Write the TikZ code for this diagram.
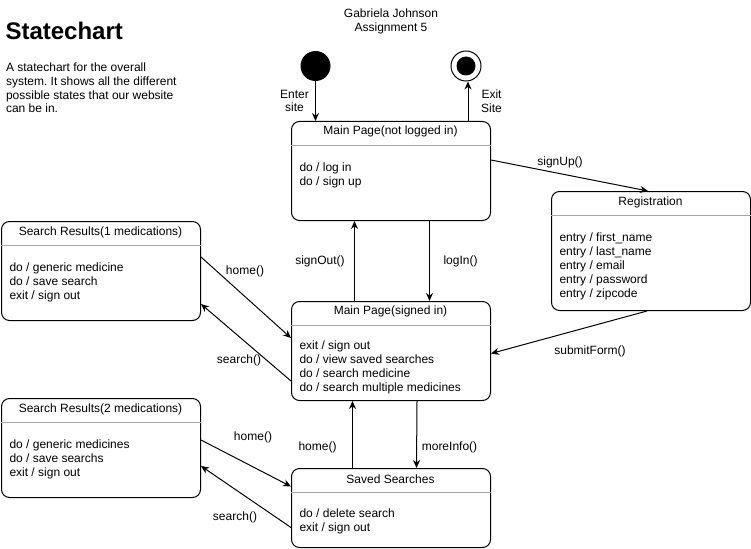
\documentclass[tikz,border=0pt]{standalone}
\usepackage{fontspec}
\setmainfont{Liberation Sans}
\usetikzlibrary{arrows.meta}
\usetikzlibrary{positioning}
\frenchspacing

\begin{document}
\begin{tikzpicture}[x=1pt, y=-1pt, line width=1pt,
        state/.style={shape=rectangle, draw=black, rounded corners=8pt, minimum width=199pt, anchor=north west, inner sep=0pt},
        head/.style={inner sep=0pt, font=\fontsize{12}{14}\selectfont},
        body/.style={anchor=north west, align=left, inner sep=0pt, font=\fontsize{12}{14}\selectfont},
        lbl/.style={inner sep=0pt, align=center, font=\fontsize{12}{13.6}\selectfont},
        sep/.style={draw=black!35, line width=0.8pt},
        trans/.style={-{Stealth[length=8pt,width=7pt]}}]
        \useasboundingbox (0,0) rectangle (751,548);

        % title and notes
        \node (title) at (5,31) [anchor=west, inner sep=0pt, font=\fontsize{24}{28}\bfseries] {Statechart};
        \node (notes) at (5.5,88) [anchor=west, align=left, inner sep=0pt, font=\fontsize{12}{13.7}\selectfont] {A statechart for the overall\\system. It shows all the different\\possible states that our website\\can be in.};
        \node (author) at (391,21.5) [lbl] {Gabriela Johnson\\Assignment 5};

        % pseudo states
        \node (start) at (315.5,66) [shape=circle, fill=black, minimum size=30pt, inner sep=0pt] {};
        \node (stop) at (466,66) [shape=circle, draw=black, minimum size=30pt, inner sep=0pt] {};
        \node (stopdot) at (466,66) [shape=circle, fill=black, minimum size=19pt, inner sep=0pt] {};

        % states
        \node (mainout) at (291,121) [state, minimum height=99pt] {};
        \node (mainouth) at (390.5,131.5) [head] {Main Page(not logged in)};
        \node (mainoutb) at (299,162) [body] {do / log in\\do / sign up};
        \draw[sep] (mainout.west |- 0,145) -- (mainout.east |- 0,145);

        \node (reg) at (551,191) [state, minimum height=119pt] {};
        \node (regh) at (650.5,202.5) [head] {Registration};
        \node (regb) at (559,232) [body] {entry / first\_name\\entry / last\_name\\entry / email\\entry / password\\entry / zipcode};
        \draw[sep] (reg.west |- 0,215) -- (reg.east |- 0,215);

        \node (res1) at (1,221) [state, minimum height=99pt] {};
        \node (res1h) at (100.5,232.5) [head] {Search Results(1 medications)};
        \node (res1b) at (9,262) [body] {do / generic medicine\\do / save search\\exit / sign out};
        \draw[sep] (res1.west |- 0,245) -- (res1.east |- 0,245);

        \node (mainin) at (291,301) [state, minimum height=99pt] {};
        \node (maininh) at (390.5,311.5) [head] {Main Page(signed in)};
        \node (maininb) at (299,340) [body] {exit / sign out\\do / view saved searches\\do / search medicine\\do / search multiple medicines};
        \draw[sep] (mainin.west |- 0,325.5) -- (mainin.east |- 0,325.5);

        \node (res2) at (1,398) [state, minimum height=99pt] {};
        \node (res2h) at (100.5,409.5) [head] {Search Results(2 medications)};
        \node (res2b) at (9,439) [body] {do / generic medicines\\do / save searchs\\exit / sign out};
        \draw[sep] (res2.west |- 0,422.5) -- (res2.east |- 0,422.5);

        \node (saved) at (291,468) [state, minimum height=79pt] {};
        \node (savedh) at (390.5,479.5) [head] {Saved Searches};
        \node (savedb) at (299,508) [body] {do / delete search\\exit / sign out};
        \draw[sep] (saved.west |- 0,492.5) -- (saved.east |- 0,492.5);

        % transitions
        \draw[trans] (start) -- (start |- mainout.north);
        \draw[trans] (mainout.north -| 468,0) -- (stop.south -| 468,0);
        \draw[trans] (mainout.east |- 0,160) -- (reg.north -| 648,0);
        \draw[trans] (mainin.north -| 354.5,0) -- (mainout.south -| 354.5,0);
        \draw[trans] (mainout.south -| 429.5,0) -- (mainin.north -| 429.5,0);
        \draw[trans] (res1.east |- 0,257) -- (mainin.west |- 0,338);
        \draw[trans] (mainin.west |- 0,381) -- (res1.east |- 0,304);
        \draw[trans] (reg.south -| 647,0) -- (mainin.east |- 0,353.5);
        \draw[trans] (saved.north -| 352.5,0) -- (mainin.south -| 352.5,0);
        \draw[trans] (mainin.south -| 417,0) -- (saved.north -| 416.5,0);
        \draw[trans] (res2.east |- 0,440) -- (saved.west |- 0,486.5);
        \draw[trans] (saved.west |- 0,527.5) -- (res2.east |- 0,466);

        % labels
        \node (lenter) at (294.5,101) [lbl] {Enter\\site};
        \node (lexit) at (491.5,101) [lbl] {Exit\\Site};
        \node (lsignup) at (560,162.5) [lbl] {signUp()};
        \node (lsignout) at (320,261) [lbl] {signOut()};
        \node (llogin) at (460.5,261) [lbl] {logIn()};
        \node (lhome1) at (245,271) [lbl] {home()};
        \node (lsearch1) at (239,360) [lbl] {search()};
        \node (lsubmit) at (590,351) [lbl] {submitForm()};
        \node (lhome2) at (253,437.5) [lbl] {home()};
        \node (lhome3) at (317.5,447.5) [lbl] {home()};
        \node (lmore) at (449.5,447) [lbl] {moreInfo()};
        \node (lsearch2) at (235,517.5) [lbl] {search()};
    \end{tikzpicture}
\end{document}
